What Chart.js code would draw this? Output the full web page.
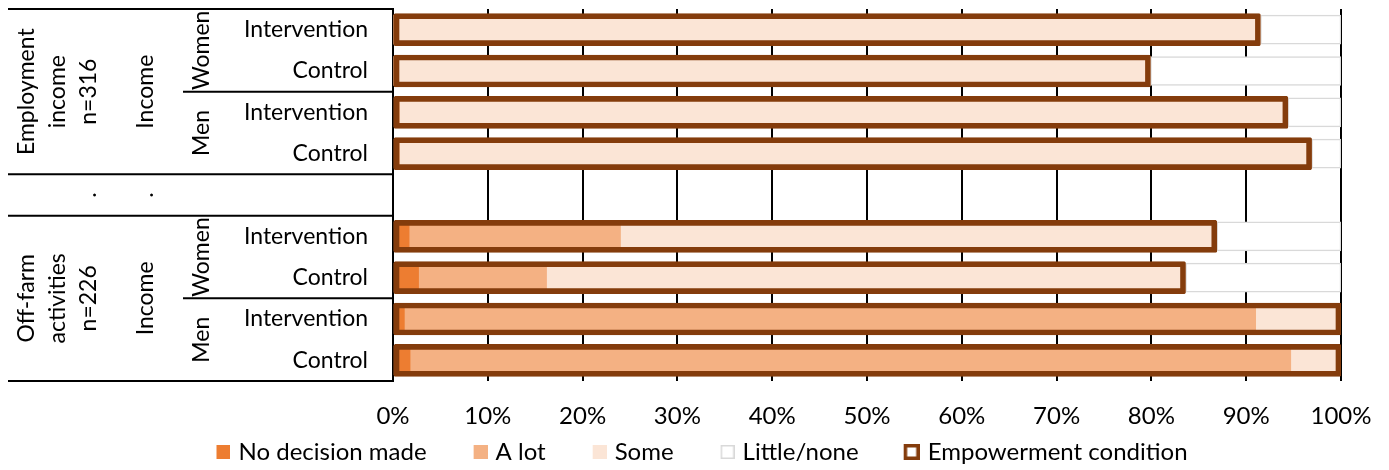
<!DOCTYPE html>
<html>
<head>
<meta charset="utf-8">
<script src="https://cdn.jsdelivr.net/npm/chart.js@4"></script>
<style>
  html, body { margin: 0; padding: 0; background: #ffffff; }
  canvas { display: block; }
</style>
</head>
<body>
<canvas id="chart" width="1389" height="470"></canvas>
<script>
// Row labels (innermost category level); the empty row separates the two activity groups
const rowLabels = ["Intervention", "Control", "Intervention", "Control", "", "Intervention", "Control", "Intervention", "Control"];
const genderLabels = ["Women", "Men", "Women", "Men"];
const domainLabels = ["Income", "Income"];
const sectorLabels = [["Employment", "income", "n=316"], ["Off-farm", "activities", "n=226"]];
const gapLabel = ".";

// Share of respondents (%) by level of input into decisions
const noDecision  = [0,    0,    0.3,  0.3,  null, 1.7,  2.7,  1.2,  1.8];
const aLot        = [0,    0,    0.4,  0.4,  null, 22.3, 13.5, 89.8, 92.9];
const some        = [91.5, 79.9, 93.7, 96.2, null, 62.9, 67.4, 9.0,  5.3];
const littleNone  = [8.5,  20.1, 5.6,  3.1,  null, 13.1, 16.4, 0,    0];
const empowerment = [91.5, 79.9, 94.4, 96.9, null, 86.9, 83.6, 100,  100];

const xTicks = [0, 10, 20, 30, 40, 50, 60, 70, 80, 90, 100];

const FONT = "Lato, 'Open Sans', sans-serif";
const FS = 23;       // category labels
const FS_AXIS = 24;  // value axis and legend

// Legend swatches: box sits at the right edge of a wider transparent canvas
function swatch(fill, stroke, lw, size) {
  const c = document.createElement('canvas');
  c.width = 55; c.height = 18;
  const g = c.getContext('2d');
  const x = c.width - size, y = (c.height - size) / 2;
  g.fillStyle = fill;
  g.fillRect(x, y, size, size);
  if (lw > 0) {
    g.strokeStyle = stroke;
    g.lineWidth = lw;
    g.strokeRect(x + lw / 2, y + lw / 2, size - lw, size - lw);
  }
  return c;
}
const swatches = [
  swatch('#ED7D31', null, 0, 14),
  swatch('#F4B183', null, 0, 14),
  swatch('#FBE5D6', null, 0, 14),
  swatch('#FFFFFF', '#D9D9D9', 1.5, 14),
  swatch('#FFFFFF', '#843C0C', 3.5, 16)
];

function vText(ctx, lines, cx, cy, lh) {
  ctx.save();
  ctx.translate(cx, cy);
  ctx.rotate(-Math.PI / 2);
  ctx.textAlign = 'center';
  ctx.textBaseline = 'middle';
  lines.forEach((t, k) => ctx.fillText(t, 0, (k - (lines.length - 1) / 2) * lh));
  ctx.restore();
}

// Outer category levels drawn beside the y axis
const sideLabels = {
  id: 'sideLabels',
  afterDraw(chart) {
    const ctx = chart.ctx;
    const ys = chart.scales.y;
    const area = chart.chartArea;
    const step = ys.getPixelForValue(1) - ys.getPixelForValue(0);
    const edge = i => ys.getPixelForValue(0) + (i - 0.5) * step;
    ctx.save();
    ctx.strokeStyle = '#000';
    ctx.lineWidth = 2;
    const hline = (yy, x0) => {
      ctx.beginPath(); ctx.moveTo(x0, yy); ctx.lineTo(area.left, yy); ctx.stroke();
    };
    [0, 4, 5, 9].forEach(i => hline(edge(i), 8));
    [2, 7].forEach(i => hline(edge(i), 183));

    ctx.fillStyle = '#000';
    ctx.font = FS + 'px ' + FONT;
    [0, 5].forEach((start, g) => {
      const cy = (edge(start) + edge(start + 4)) / 2;
      vText(ctx, sectorLabels[g], 58, cy, 31);
      vText(ctx, [domainLabels[g]], 146, cy, 31);
      vText(ctx, [genderLabels[g * 2]], 202, (edge(start) + edge(start + 2)) / 2, 31);
      vText(ctx, [genderLabels[g * 2 + 1]], 202, (edge(start + 2) + edge(start + 4)) / 2, 31);
    });
    const gy = ys.getPixelForValue(4);
    vText(ctx, [gapLabel], 89, gy, 31);
    vText(ctx, [gapLabel], 146, gy, 31);
    ctx.restore();
  }
};

const stackBar = { stack: 'levels', barThickness: 29 };

new Chart(document.getElementById('chart'), {
  type: 'bar',
  data: {
    labels: rowLabels,
    datasets: [
      { ...stackBar, label: 'No decision made', data: noDecision, backgroundColor: '#ED7D31' },
      { ...stackBar, label: 'A lot', data: aLot, backgroundColor: '#F4B183' },
      { ...stackBar, label: 'Some', data: some, backgroundColor: '#FBE5D6' },
      { ...stackBar, label: 'Little/none', data: littleNone, backgroundColor: '#FFFFFF',
        borderColor: '#D9D9D9', borderWidth: 1.5, borderSkipped: false },
      { label: 'Empowerment condition', data: empowerment, stack: 'condition', grouped: false,
        backgroundColor: 'rgba(0,0,0,0)', borderColor: '#843C0C', borderWidth: 5,
        borderSkipped: false, borderRadius: 1.5, maxBarThickness: 32,
        categoryPercentage: 1, barPercentage: 1, order: -1 }
    ]
  },
  options: {
    indexAxis: 'y',
    responsive: false,
    animation: false,
    layout: { padding: { left: 26, right: 48, top: 9, bottom: -4 } },
    scales: {
      x: {
        stacked: true,
        min: 0, max: 100,
        afterBuildTicks(scale) { scale.ticks = xTicks.map(v => ({ value: v })); },
        ticks: { callback: v => v + '%', color: '#000', font: { family: FONT, size: FS_AXIS }, padding: 21, maxRotation: 0 },
        grid: { color: '#000', lineWidth: 2, drawTicks: false },
        border: { display: false },
        afterFit(scale) { scale.height = 49; scale.paddingLeft = 0; scale.paddingRight = 0; }
      },
      y: {
        grid: { display: false, drawTicks: false },
        border: { display: true, color: '#000', width: 2 },
        ticks: { color: '#000', font: { family: FONT, size: FS }, padding: 25, autoSkip: false },
        afterFit(scale) { scale.width = 367; scale.paddingTop = 0; scale.paddingBottom = 0; }
      }
    },
    plugins: {
      tooltip: { enabled: false },
      legend: {
        position: 'bottom',
        labels: {
          usePointStyle: true,
          pointStyleWidth: 47,
          padding: 10,
          color: '#000',
          font: { family: FONT, size: FS_AXIS },
          sort: (a, b) => a.datasetIndex - b.datasetIndex,
          generateLabels(chart) {
            const items = Chart.defaults.plugins.legend.labels.generateLabels(chart);
            items.forEach(it => { it.pointStyle = swatches[it.datasetIndex]; it.lineWidth = 0; });
            return items;
          }
        }
      }
    }
  },
  plugins: [sideLabels]
});
</script>
</body>
</html>
